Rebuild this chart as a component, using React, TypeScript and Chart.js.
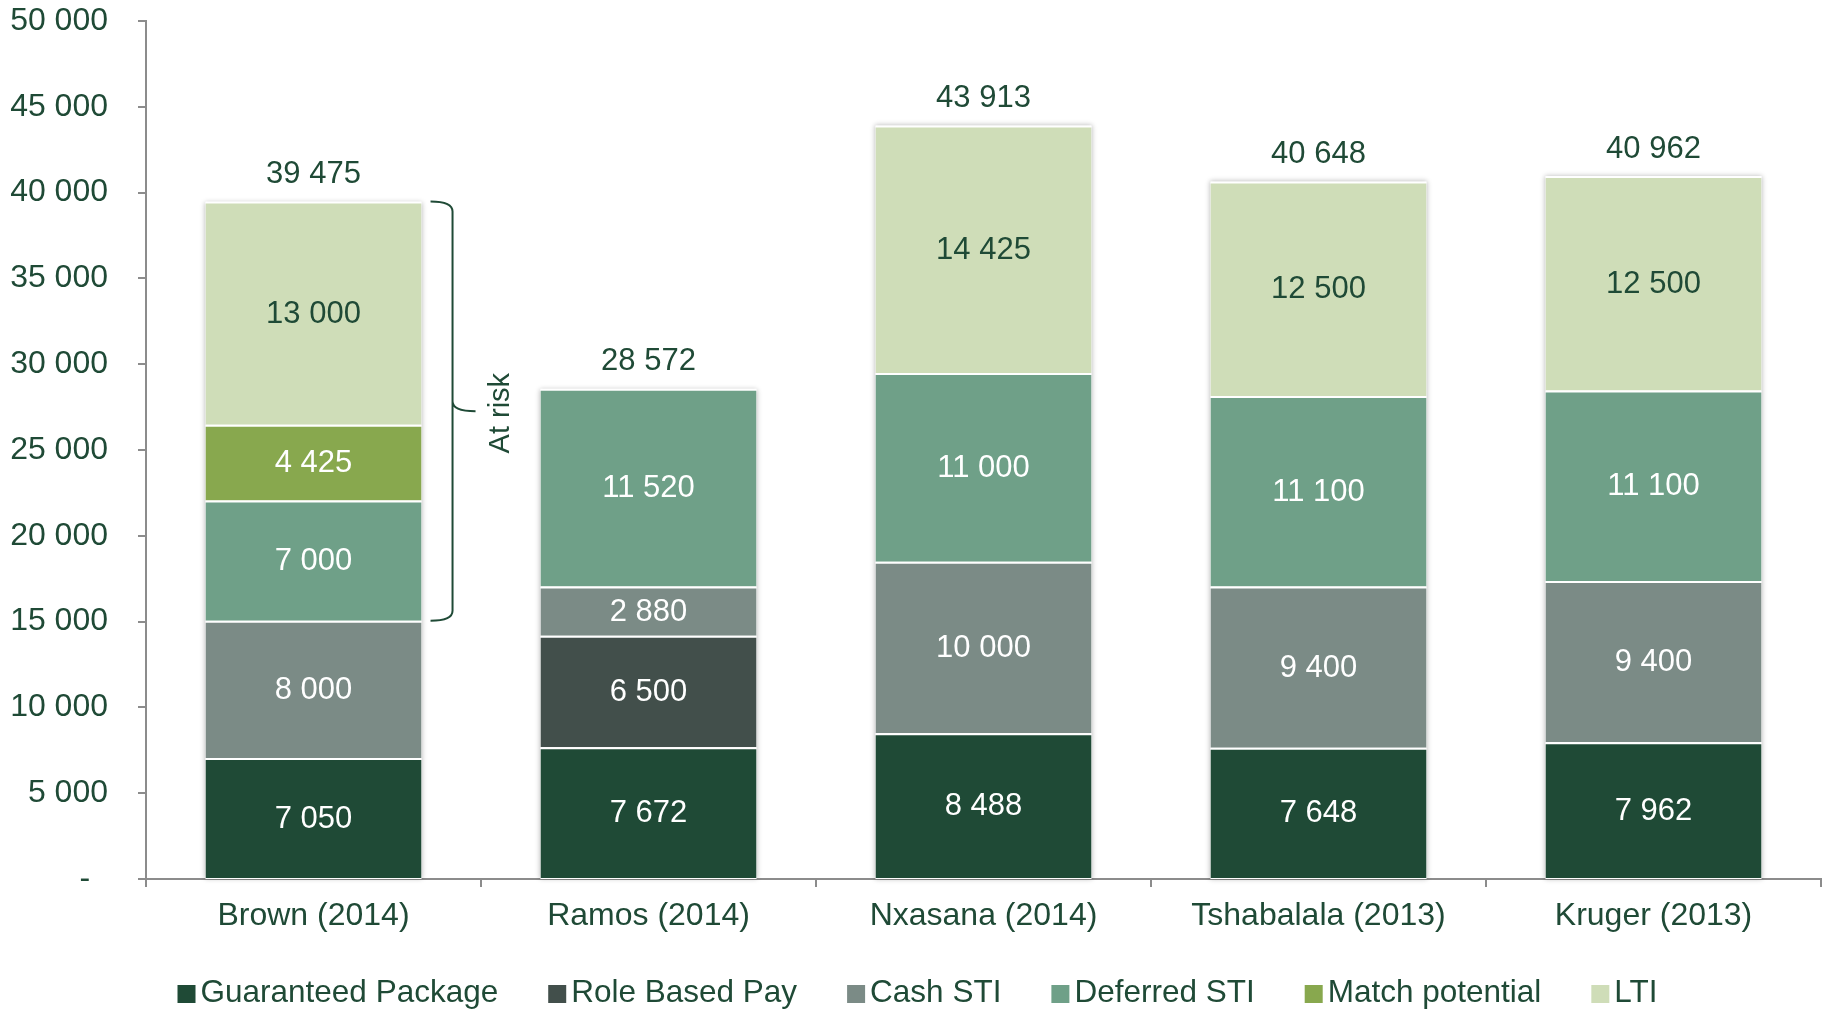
import React, { useEffect, useRef } from "react";
import { Chart, registerables } from "chart.js";

Chart.register(...registerables);

const categories = ["Brown (2014)", "Ramos (2014)", "Nxasana (2014)", "Tshabalala (2013)", "Kruger (2013)"];
const seriesNames = ["Guaranteed Package", "Role Based Pay", "Cash STI", "Deferred STI", "Match potential", "LTI"];
const guaranteedPackage = [7050, 7672, 8488, 7648, 7962];
const roleBasedPay = [null, 6500, null, null, null];
const cashSTI = [8000, 2880, 10000, 9400, 9400];
const deferredSTI = [7000, 11520, 11000, 11100, 11100];
const matchPotential = [4425, null, null, null, null];
const lti = [13000, null, 14425, 12500, 12500];
const yTickValues = [0, 5000, 10000, 15000, 20000, 25000, 30000, 35000, 40000, 45000, 50000];
const atRiskLabel = "At risk";
const atRiskCategoryIndex = 0;

const seriesColors = ["#1F4A36", "#424F4B", "#7B8B86", "#6FA088", "#88A84E", "#CFDDB8"];
const labelColors = ["#FFFFFF", "#FFFFFF", "#FFFFFF", "#FFFFFF", "#FFFFFF", "#1F4A36"];
const TEXT = "#1F4A36";
const AXIS = "#8C8C8C";
const FONT = "'Liberation Sans', Arial, sans-serif";
const AXIS_FS = 32;
const LABEL_FS = 31;
const LEGEND_FS = 31.5;

// target plot area (pixels)
const AREA = { left: 146, right: 1821, top: 21, bottom: 879 };

const fmt = (n: number) => (n === 0 ? "-  " : String(Math.round(n)).replace(/\B(?=(\d{3})+(?!\d))/g, " "));

const allSeries = [guaranteedPackage, roleBasedPay, cashSTI, deferredSTI, matchPotential, lti];

const totals = categories.map((_, i) => allSeries.reduce((s, arr) => s + ((arr[i] as number) || 0), 0));

const shadowPlugin = {
  id: "barShadow",
  beforeDatasetsDraw(chart: any) {
    const ctx = chart.ctx;
    const y = chart.scales.y;
    const meta0 = chart.getDatasetMeta(0);
    ctx.save();
    meta0.data.forEach((bar: any, i: number) => {
      const w = bar.width;
      const top = y.getPixelForValue(totals[i]);
      const bottom = y.getPixelForValue(0);
      ctx.shadowColor = "rgba(0,0,0,0.28)";
      ctx.shadowBlur = 5;
      ctx.shadowOffsetX = 0;
      ctx.shadowOffsetY = 0;
      ctx.fillStyle = "#ffffff";
      ctx.fillRect(bar.x - w / 2, top, w, bottom - top);
    });
    ctx.restore();
  },
};

const labelPlugin = {
  id: "valueLabels",
  afterDatasetsDraw(chart: any) {
    const ctx = chart.ctx;
    const yScale = chart.scales.y;
    ctx.save();
    ctx.font = `${LABEL_FS}px ${FONT}`;
    ctx.textAlign = "center";
    ctx.textBaseline = "middle";
    chart.data.datasets.forEach((ds: any, i: number) => {
      const meta = chart.getDatasetMeta(i);
      meta.data.forEach((bar: any, j: number) => {
        const v = ds.data[j];
        if (v == null) return;
        const p = bar.getProps(["x", "y", "base"], true);
        ctx.fillStyle = labelColors[i];
        ctx.fillText(fmt(v), p.x, (p.y + p.base) / 2 + 1);
      });
    });
    // totals
    const meta0 = chart.getDatasetMeta(0);
    ctx.fillStyle = TEXT;
    meta0.data.forEach((bar: any, j: number) => {
      const top = yScale.getPixelForValue(totals[j]);
      ctx.fillText(fmt(totals[j]), bar.x, top - 27);
    });

    // At-risk brace
    const k = atRiskCategoryIndex;
    const bar = meta0.data[k];
    const start = (guaranteedPackage[k] || 0) + ((roleBasedPay[k] as number) || 0) + (cashSTI[k] || 0);
    const yt = yScale.getPixelForValue(totals[k]);
    const yb = yScale.getPixelForValue(start);
    const ym = (yt + yb) / 2;
    const xr = bar.x + bar.width / 2;
    const xa = xr + 9;
    const xv = xr + 31;
    const xt = xr + 54;
    const r = 10;
    ctx.strokeStyle = TEXT;
    ctx.lineWidth = 2;
    ctx.beginPath();
    ctx.moveTo(xa, yt);
    ctx.quadraticCurveTo(xv, yt, xv, yt + r);
    ctx.lineTo(xv, ym - r);
    ctx.quadraticCurveTo(xv, ym, xt, ym);
    ctx.moveTo(xv, ym - r);
    ctx.quadraticCurveTo(xv, ym, xv, ym + r);
    ctx.lineTo(xv, yb - r);
    ctx.quadraticCurveTo(xv, yb, xa, yb);
    ctx.stroke();

    ctx.save();
    ctx.translate(xr + 79, ym + 2);
    ctx.rotate(-Math.PI / 2);
    ctx.fillStyle = TEXT;
    ctx.font = `29px ${FONT}`;
    ctx.fillText(atRiskLabel, 0, 0);
    ctx.restore();
    ctx.restore();
  },
};

const legendPlugin = {
  id: "customLegend",
  afterDraw(chart: any) {
    const ctx = chart.ctx;
    ctx.save();
    ctx.font = `${LEGEND_FS}px ${FONT}`;
    ctx.textBaseline = "alphabetic";
    ctx.textAlign = "left";
    const box = 18;
    const boxGap = 5;
    const itemGap = 50;
    const widths = seriesNames.map((n) => ctx.measureText(n).width);
    const total = widths.reduce((s, w) => s + box + boxGap + w, 0) + itemGap * (seriesNames.length - 1);
    let x = (chart.width - total) / 2 + 4;
    const baseline = 1002;
    seriesNames.forEach((n, i) => {
      ctx.fillStyle = seriesColors[i];
      ctx.fillRect(x, baseline - 17, box, box);
      ctx.fillStyle = TEXT;
      ctx.fillText(n, x + box + boxGap, baseline);
      x += box + boxGap + widths[i] + itemGap;
    });
    ctx.restore();
  },
};

export default function App() {
  const ref = useRef<HTMLCanvasElement | null>(null);
  useEffect(() => {
    if (!ref.current) return;
    const chart: any = new Chart(ref.current, {
      type: "bar",
      data: {
        labels: categories,
        datasets: allSeries.map((arr, i) => ({
          label: seriesNames[i],
          data: arr as any,
          backgroundColor: seriesColors[i],
          borderColor: "#ffffff",
          borderWidth: { top: 2, left: 0, right: 0, bottom: 0 } as any,
          borderSkipped: "start" as any,
          barPercentage: 0.645,
          categoryPercentage: 1,
        })),
      },
      options: {
        responsive: false,
        animation: false,
        layout: { padding: { top: AREA.top, right: 1827 - AREA.right, left: 0, bottom: 60 } },
        plugins: {
          legend: { display: false },
          tooltip: { enabled: false },
        },
        scales: {
          x: {
            stacked: true,
            grid: { drawOnChartArea: false, drawTicks: true, tickLength: 8, color: AXIS, lineWidth: 2, offset: true },
            border: { display: true, color: AXIS, width: 2 },
            ticks: { color: TEXT, font: { family: FONT, size: AXIS_FS }, padding: 10, maxRotation: 0 },
          },
          y: {
            stacked: true,
            min: 0,
            max: 50000,
            afterBuildTicks: (scale: any) => {
              scale.ticks = yTickValues.map((v) => ({ value: v }));
            },
            afterFit: (scale: any) => {
              scale.width = AREA.left;
              scale.paddingTop = 0;
              scale.paddingBottom = 0;
            },
            grid: { drawOnChartArea: false, drawTicks: true, tickLength: 8, color: AXIS, lineWidth: 2 },
            border: { display: true, color: AXIS, width: 2 },
            ticks: {
              color: TEXT,
              font: { family: FONT, size: AXIS_FS },
              padding: 30,
              callback: (v: any) => fmt(Number(v)),
            },
          },
        },
      },
      plugins: [shadowPlugin, labelPlugin, legendPlugin],
    });
    // pin the plot area to the target rectangle
    for (let pass = 0; pass < 4; pass++) {
      const ca = chart.chartArea;
      const pad = chart.options.layout.padding;
      const dTop = AREA.top - ca.top;
      const dBottom = ca.bottom - AREA.bottom;
      const dRight = ca.right - AREA.right;
      if (Math.abs(dTop) < 0.5 && Math.abs(dBottom) < 0.5 && Math.abs(dRight) < 0.5) break;
      pad.top += dTop;
      pad.bottom += dBottom;
      pad.right += dRight;
      chart.update();
    }
    return () => chart.destroy();
  }, []);
  return (
    <div style={{ position: "absolute", left: 0, top: 0, width: 1827, height: 1010, background: "#fff" }}>
      <canvas ref={ref} width={1827} height={1010} style={{ display: "block" }} />
    </div>
  );
}
